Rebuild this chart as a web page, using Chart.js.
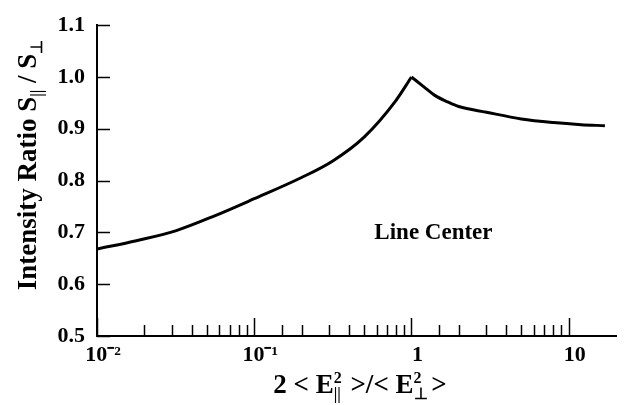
<!DOCTYPE html>
<html>
<head>
<meta charset="utf-8">
<script src="https://cdn.jsdelivr.net/npm/chart.js@4/dist/chart.umd.min.js"></script>
<style>
  html, body { margin: 0; padding: 0; background: #fff; }
  #wrap { width: 631px; height: 405px; }
</style>
</head>
<body>
<div id="wrap"><canvas id="chart"></canvas></div>
<script>
// rising branch, up to the peak at x = 1
const risingX = [0.01, 0.0178, 0.0316, 0.056, 0.1, 0.2, 0.316, 0.5, 0.794, 1];
const risingY = [0.668, 0.684, 0.703, 0.732, 0.765, 0.806, 0.838, 0.884, 0.954, 1.0];
// falling branch, after the peak
const fallingX = [1, 1.2, 1.4, 1.7, 2, 3, 5, 8, 12, 17];
const fallingY = [1.0, 0.981, 0.965, 0.952, 0.943, 0.932, 0.919, 0.912, 0.908, 0.906];

const majorX = { 0.01: '10\u207B\u00B2', 0.1: '10\u207B\u00B9', 1: '1', 10: '10' };
const yTicks = [0.5, 0.6, 0.7, 0.8, 0.9, 1.0, 1.1];
const note = { text: 'Line Center', x: 1.38, y: 0.698 };

const serif = '"Liberation Serif", "Times New Roman", serif';

const toPoints = (xs, ys) => xs.map((x, i) => ({ x: x, y: ys[i] }));

const majorLabel = (v) => {
    const k = Object.keys(majorX).find((m) => Math.abs(Number(m) - v) < 1e-9);
    return k ? majorX[k] : null;
};

// draw a run of text pieces; pieces may be raised (sup) or lowered (sub)
const drawPieces = (ctx, pieces, x, y) => {
    let cx = x;
    pieces.forEach((p) => {
        ctx.font = 'bold ' + p.size + 'px ' + serif;
        ctx.fillText(p.t, cx, y + (p.dy || 0));
        cx += p.w !== undefined ? p.w : ctx.measureText(p.t).width;
    });
};

const piecesWidth = (ctx, pieces) => {
    let w = 0;
    pieces.forEach((p) => {
        ctx.font = 'bold ' + p.size + 'px ' + serif;
        w += p.w !== undefined ? p.w : ctx.measureText(p.t).width;
    });
    return w;
};

const decorations = {
    id: 'decorations',
    afterDraw(chart) {
        const ctx = chart.ctx;
        const xs = chart.scales.x;
        const ys = chart.scales.y;
        const area = chart.chartArea;
        ctx.save();
        ctx.strokeStyle = '#000';
        ctx.fillStyle = '#000';

        // inward ticks on x axis
        ctx.lineWidth = 1.5;
        xs.ticks.forEach((t) => {
            if (t.value > 10.001) return;
            const px = Math.round(xs.getPixelForValue(t.value)) + 0.5;
            const len = majorLabel(t.value) ? 18 : 11;
            ctx.beginPath();
            ctx.moveTo(px, area.bottom);
            ctx.lineTo(px, area.bottom - len);
            ctx.stroke();
        });
        // inward ticks on y axis
        yTicks.forEach((v) => {
            const py = Math.round(ys.getPixelForValue(v)) + 0.5;
            ctx.beginPath();
            ctx.moveTo(area.left, py);
            ctx.lineTo(area.left + 13, py);
            ctx.stroke();
        });

        // note in the plot
        ctx.font = 'bold 23px ' + serif;
        ctx.textAlign = 'center';
        ctx.textBaseline = 'middle';
        ctx.fillText(note.text, xs.getPixelForValue(note.x), ys.getPixelForValue(note.y));

        // x title: 2 < E||^2 >/< E_|_^2 >
        ctx.textAlign = 'left';
        ctx.textBaseline = 'alphabetic';
        const big = 27, small = 16;
        ctx.font = 'bold ' + small + 'px ' + serif;
        const supW = ctx.measureText('2').width;
        const xt = [
            { t: '2 < E', size: big },
            { t: '2', size: small, dy: -10, w: 0 },
            { t: '||', size: small, dy: 6, w: supW + 2 },
            { t: ' >/< E', size: big },
            { t: '2', size: small, dy: -10, w: 0 },
            { t: '\u22A5', size: small, dy: 6, w: supW + 3 },
            { t: ' >', size: big }
        ];
        const xw = piecesWidth(ctx, xt);
        drawPieces(ctx, xt, 360 - xw / 2, 393);

        // y title, rotated: Intensity Ratio S|| / S_|_
        const yt = [
            { t: 'Intensity Ratio S', size: big },
            { t: '||', size: small, dy: 6 },
            { t: ' / S', size: big },
            { t: '\u22A5', size: small, dy: 6 }
        ];
        const yw = piecesWidth(ctx, yt);
        ctx.translate(36, 165);
        ctx.rotate(-Math.PI / 2);
        drawPieces(ctx, yt, -yw / 2, 0);
        ctx.restore();
    }
};

const lineStyle = {
    borderColor: '#000',
    borderWidth: 3,
    pointRadius: 0,
    fill: false,
    cubicInterpolationMode: 'monotone',
};

new Chart('chart', {
    type: 'line',
    data: {
        datasets: [
            Object.assign({ label: 'rising', data: toPoints(risingX, risingY) }, lineStyle),
            Object.assign({ label: 'falling', data: toPoints(fallingX, fallingY) }, lineStyle),
        ],
    },
    options: {
        responsive: true,
        maintainAspectRatio: false,
        animation: false,
        layout: { padding: { top: 21, right: 15, left: 0, bottom: 0 } },
        plugins: {
            legend: { display: false },
            tooltip: { enabled: false },
        },
        scales: {
            x: {
                type: 'logarithmic',
                min: 0.01,
                max: 20,
                grid: { display: false, drawTicks: false },
                border: { display: true, color: '#000', width: 2 },
                afterFit: (s) => { s.height = 69; },
                ticks: {
                    autoSkip: false,
                    maxRotation: 0,
                    padding: 6,
                    labelOffset: 6,
                    color: '#000',
                    font: { family: serif, size: 22, weight: 'bold' },
                    callback: (v) => majorLabel(v) || '',
                },
            },
            y: {
                min: 0.5,
                max: 1.1,
                grid: { display: false, drawTicks: false },
                border: { display: true, color: '#000', width: 2 },
                afterFit: (s) => { s.width = 97; },
                afterBuildTicks: (s) => { s.ticks = yTicks.map((v) => ({ value: v })); },
                ticks: {
                    padding: 12,
                    color: '#000',
                    font: { family: serif, size: 22, weight: 'bold' },
                    callback: (v) => Number(v).toFixed(1),
                },
            },
        },
    },
    plugins: [decorations],
});
</script>
</body>
</html>
